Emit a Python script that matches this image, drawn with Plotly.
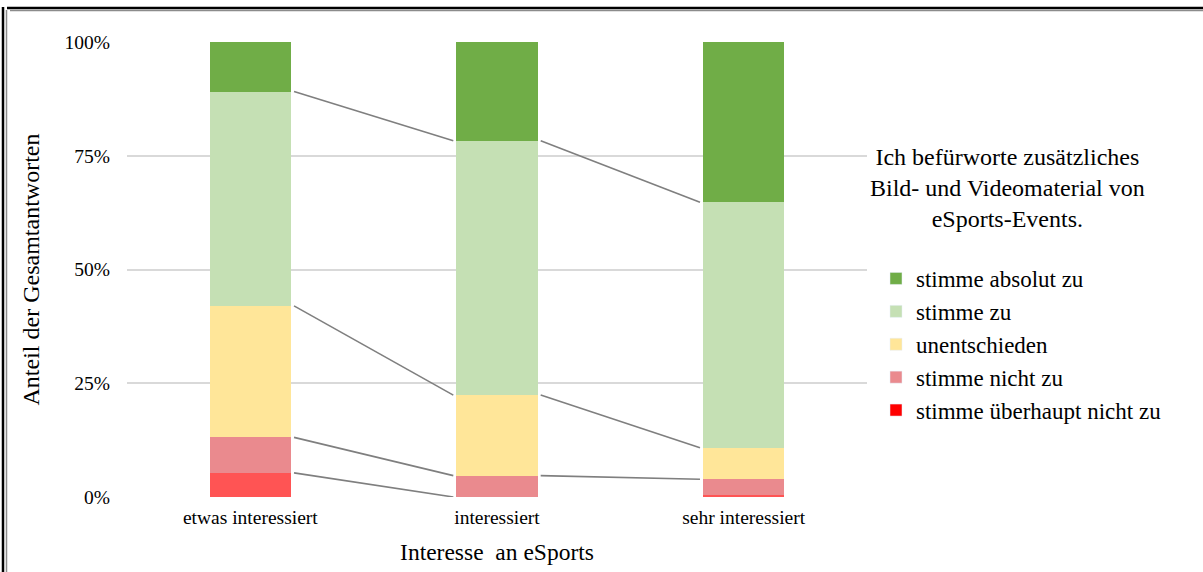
import plotly.graph_objects as go

# Survey responses (share of all answers, in percent) by level of interest in eSports
categories = ["etwas interessiert", "interessiert", "sehr interessiert"]
series_names = ["stimme überhaupt nicht zu", "stimme nicht zu", "unentschieden",
                "stimme zu", "stimme absolut zu"]
ueberhaupt_nicht = [5.3, 0.0, 0.5]
nicht_zu = [7.8, 4.7, 3.4]
unentschieden = [28.9, 17.7, 6.9]
stimme_zu = [47.1, 55.9, 54.0]
absolut_zu = [10.9, 21.7, 35.2]

bar_colors = ["#FF5454", "#EA8A8E", "#FFE699", "#C5E0B4", "#70AD47"]
legend_colors = ["#FF0000", "#EA8A8E", "#FFE699", "#C5E0B4", "#70AD47"]

y_ticks = [0, 25, 50, 75, 100]
y_ticktext = ["0%", "25%", "50%", "75%", "100%"]

FONT = "Liberation Serif, Times New Roman, serif"
W, H = 1203, 572
ML, MR, MT, MB = 127, 336, 42, 75
BAR_W = 0.33

series_values = [ueberhaupt_nicht, nicht_zu, unentschieden, stimme_zu, absolut_zu]
xpos = list(range(len(categories)))

fig = go.Figure()

# stacked bars
for name, vals, col in zip(series_names, series_values, bar_colors):
    fig.add_trace(go.Bar(x=xpos, y=vals, name=name, marker=dict(color=col, line=dict(width=0)),
                         width=BAR_W, showlegend=False, hoverinfo="skip"))

# series lines joining the top of each segment across neighbouring bars
gap = 3 / ((W - ML - MR) / 3)
cum = [0.0] * len(categories)
for vals in series_values[:-1]:
    cum = [c + v for c, v in zip(cum, vals)]
    lx, ly = [], []
    for i in range(len(categories) - 1):
        if cum[i] == 0 and cum[i + 1] < 1:
            continue
        lx += [xpos[i] + BAR_W / 2 + gap, xpos[i + 1] - BAR_W / 2 - gap, None]
        ly += [cum[i], cum[i + 1], None]
    fig.add_trace(go.Scatter(x=lx, y=ly, mode="lines", line=dict(color="#7F7F7F", width=1.6),
                             showlegend=False, hoverinfo="skip"))

# legend entries (top to bottom)
for name, col in zip(series_names[::-1], legend_colors[::-1]):
    fig.add_trace(go.Bar(x=[None], y=[None], name=name, marker=dict(color=col), showlegend=True))

def px_x(p):
    return (p - ML) / (W - ML - MR)

def px_y(p):
    return (H - MB - p) / (H - MT - MB)

shapes = [
    # outer chart frame
    dict(type="line", xref="paper", yref="paper", x0=px_x(7), x1=px_x(1215), y0=px_y(8), y1=px_y(8),
         line=dict(color="#000000", width=2.5)),
    dict(type="line", xref="paper", yref="paper", x0=px_x(10), x1=px_x(1215), y0=px_y(10.5), y1=px_y(10.5),
         line=dict(color="#8C8C8C", width=1.5)),
    dict(type="line", xref="paper", yref="paper", x0=px_x(3), x1=px_x(3), y0=px_y(7), y1=px_y(590),
         line=dict(color="#000000", width=2.5)),
    dict(type="line", xref="paper", yref="paper", x0=px_x(6.5), x1=px_x(6.5), y0=px_y(10), y1=px_y(590),
         line=dict(color="#8C8C8C", width=1.5)),
]

fig.update_layout(
    width=W, height=H, autosize=False,
    margin=dict(l=ML, r=MR, t=MT, b=MB, pad=0),
    paper_bgcolor="white", plot_bgcolor="white",
    barmode="stack", bargap=0,
    font=dict(family=FONT, color="#000000", size=19),
    xaxis=dict(range=[-0.5, 2.5], tickmode="array", tickvals=xpos, ticktext=categories,
               showgrid=False, zeroline=False, showline=False, ticks="",
               tickfont=dict(size=19.5), ticklabelstandoff=6,
               title=dict(text="Interesse  an eSports", font=dict(size=23.5), standoff=17)),
    yaxis=dict(range=[0, 100], tickmode="array", tickvals=y_ticks, ticktext=y_ticktext,
               showgrid=True, gridcolor="#D9D9D9", gridwidth=2, zeroline=False, showline=False,
               ticks="", tickfont=dict(size=19.5), ticklabelstandoff=16,
               title=dict(text="Anteil der Gesamtantworten", font=dict(size=24), standoff=18)),
    legend=dict(x=px_x(876), y=px_y(257), xanchor="left", yanchor="top",
                traceorder="normal", font=dict(size=23), bgcolor="rgba(0,0,0,0)",
                itemclick=False, itemdoubleclick=False),
    annotations=[dict(text="Ich befürworte zusätzliches<br>Bild- und Videomaterial von<br>eSports-Events.",
                      xref="paper", yref="paper", x=px_x(1007), y=px_y(188),
                      xanchor="center", yanchor="middle", align="center", showarrow=False,
                      font=dict(size=24, family=FONT))],
    shapes=shapes,
)

fig.write_html("out.html")
